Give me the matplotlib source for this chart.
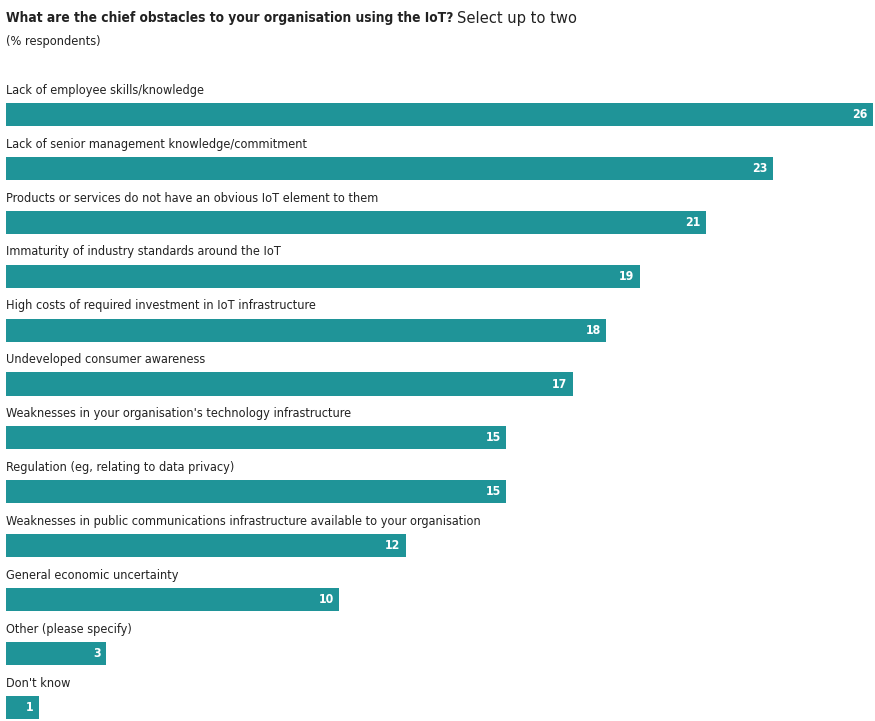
import matplotlib
matplotlib.use("Agg")
import matplotlib.pyplot as plt

plt.rcParams['font.family'] = ['DejaVu Sans']
plt.rcParams['font.stretch'] = 'condensed'

obstacles = [
    "Lack of employee skills/knowledge",
    "Lack of senior management knowledge/commitment",
    "Products or services do not have an obvious IoT element to them",
    "Immaturity of industry standards around the IoT",
    "High costs of required investment in IoT infrastructure",
    "Undeveloped consumer awareness",
    "Weaknesses in your organisation's technology infrastructure",
    "Regulation (eg, relating to data privacy)",
    "Weaknesses in public communications infrastructure available to your organisation",
    "General economic uncertainty",
    "Other (please specify)",
    "Don't know",
]
pct = [26, 23, 21, 19, 18, 17, 15, 15, 12, 10, 3, 1]

bar_color = "#1f9498"
text_color = "#222222"

fig = plt.figure(figsize=(8.75, 7.21), dpi=100)
ax = fig.add_axes([0, 0, 1, 1])

pos = list(range(len(pct)))
ax.barh(pos, pct, height=0.43, color=bar_color, left=0)

for i, (name, v) in enumerate(zip(obstacles, pct)):
    ax.text(0, i - 0.45, name, fontsize=9.1, color=text_color,
            ha="left", va="center", fontstretch="condensed")
    ax.annotate(str(v), xy=(v, i), xytext=(-4, 0), textcoords="offset points",
                ha="right", va="center", color="white", fontsize=8.8,
                fontweight="bold", fontstretch="condensed")

# px per unit ~33.35, zero line at 6px; bar pitch ~53.9px
ax.set_xlim(-6 / 33.35, (875 - 6) / 33.35)
ax.set_ylim((721 - 114.5) / 53.9, -114.5 / 53.9)
ax.axis("off")

t1 = fig.text(6 / 875, 1 - 18 / 721, "What are the chief obstacles to your organisation using the IoT?",
              fontsize=9.9, fontweight="bold", color=text_color, ha="left", va="center",
              fontstretch="condensed")
fig.canvas.draw()
bb = t1.get_window_extent()
fig.text(bb.x1 / 875 + 4 / 875, 1 - 18 / 721, "Select up to two",
         fontsize=11.8, color=text_color, ha="left", va="center", fontstretch="condensed")
fig.text(6 / 875, 1 - 42 / 721, "(% respondents)",
         fontsize=9.2, color=text_color, ha="left", va="center", fontstretch="condensed")

fig.savefig("out.png", dpi=100)
